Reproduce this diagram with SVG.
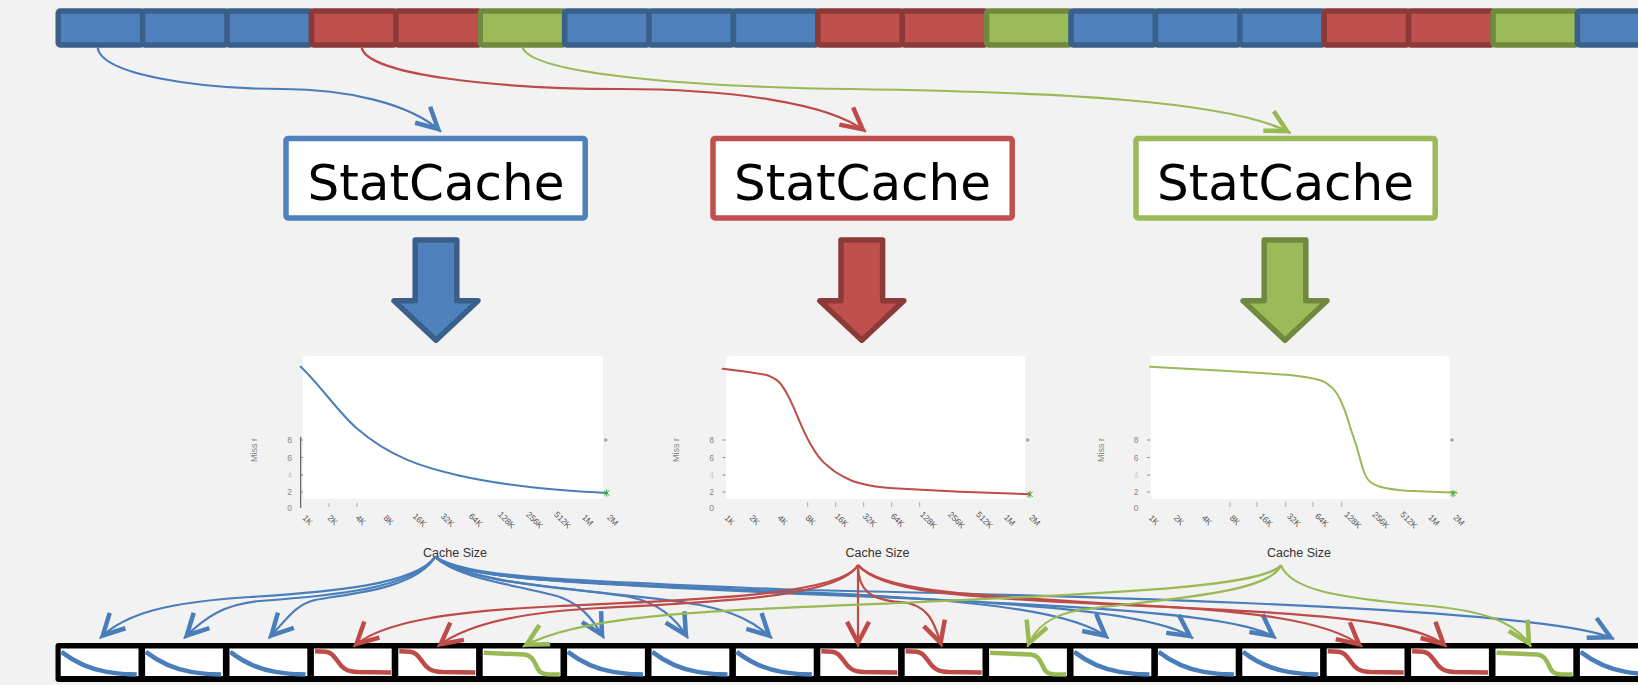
<svg xmlns="http://www.w3.org/2000/svg" width="1638" height="685" viewBox="0 0 1638 685">
<style>
.sb{fill:#4F81BD;stroke:#3A5F8B;stroke-width:5.5}
.sr{fill:#C0504D;stroke:#8C3A38;stroke-width:5.5}
.sg{fill:#9BBB59;stroke:#71893F;stroke-width:5.5}
.box{fill:#fff;stroke-width:5.5}
.lbl{font-family:"DejaVu Sans",sans-serif;font-size:50px;fill:#000;text-anchor:middle}
.xt{font-family:"Liberation Sans",Arial,sans-serif;font-size:8.5px;fill:#555;text-anchor:middle}
.yt{font-family:"Liberation Sans",Arial,sans-serif;font-size:8.5px;fill:#888;text-anchor:middle}
.cs{font-family:"Liberation Sans",Arial,sans-serif;font-size:12.5px;fill:#333;text-anchor:middle}
.crv{fill:none;stroke-width:2;stroke-linejoin:round;stroke-linecap:round}
.mini{fill:none;stroke-width:4.5;stroke-linejoin:round}
.cb{fill:none;stroke:#4A7EBB;stroke-width:2.2}
.cr{fill:none;stroke:#BE4B48;stroke-width:2.2}
.cg{fill:none;stroke:#98B954;stroke-width:2.2}
.cell{fill:#fff}
</style>
<defs>
<marker id="ahB" markerUnits="userSpaceOnUse" orient="auto" viewBox="-30 -15 32 30" markerWidth="32" markerHeight="30" refX="0" refY="0" overflow="visible">
<path d="M-25,-11 L-4,0 L-25,11" fill="none" stroke="#4A7EBB" stroke-width="4.5"/>
</marker>
<marker id="ahR" markerUnits="userSpaceOnUse" orient="auto" viewBox="-30 -15 32 30" markerWidth="32" markerHeight="30" refX="0" refY="0" overflow="visible">
<path d="M-25,-11 L-4,0 L-25,11" fill="none" stroke="#BE4B48" stroke-width="4.5"/>
</marker>
<marker id="ahG" markerUnits="userSpaceOnUse" orient="auto" viewBox="-30 -15 32 30" markerWidth="32" markerHeight="30" refX="0" refY="0" overflow="visible">
<path d="M-25,-11 L-4,0 L-25,11" fill="none" stroke="#98B954" stroke-width="4.5"/>
</marker>
<path id="miniB" d="M0.7 3.4 C12 12, 25 20, 46 23.4 S65 25.5, 76 26" class="mini" stroke="#4A7EBB"/>
<path id="miniR" d="M1 2.7 L12 3.2 C18 4, 20 8, 24 13 C28 19, 32 23, 44 23.5 L77 24" class="mini" stroke="#BE4B48"/>
<path id="miniG" d="M1 4.3 L42 6 C48 7, 50 10, 53 16 C56 23, 58 25.5, 65 25.8 L77 26" class="mini" stroke="#98B954"/>
<g id="xlabels">
<text class="xt" x="7" y="523" transform="rotate(45 7 520)">1K</text>
<text class="xt" x="32" y="523" transform="rotate(45 32 520)">2K</text>
<text class="xt" x="60" y="523" transform="rotate(45 60 520)">4K</text>
<text class="xt" x="88" y="523" transform="rotate(45 88 520)">8K</text>
<text class="xt" x="119" y="523" transform="rotate(45 119 520)">16K</text>
<text class="xt" x="147" y="523" transform="rotate(45 147 520)">32K</text>
<text class="xt" x="175" y="523" transform="rotate(45 175 520)">64K</text>
<text class="xt" x="206" y="523" transform="rotate(45 206 520)">128K</text>
<text class="xt" x="234" y="523" transform="rotate(45 234 520)">256K</text>
<text class="xt" x="262" y="523" transform="rotate(45 262 520)">512K</text>
<text class="xt" x="287" y="523" transform="rotate(45 287 520)">1M</text>
<text class="xt" x="312" y="523" transform="rotate(45 312 520)">2M</text>
<text class="yt" x="-11" y="443">8</text>
<text class="yt" x="-11" y="460.7">6</text>
<text class="yt" x="-11" y="478" fill-opacity="0.4">4</text>
<text class="yt" x="-11" y="495">2</text>
<text class="yt" x="-11" y="511">0</text>
<text class="yt" x="-43.5" y="450" transform="rotate(-90 -43.5 450)" style="font-size:9px">Miss r</text>
<path d="M0 440 h3 M0 457.5 h3 M0 475 h3 M0 492 h3 M303 440 h4 M305 438 v4" stroke="#777" stroke-width="0.8"/>
</g>
</defs>
<rect width="1638" height="685" fill="#F2F2F2"/>

<g id="source-strip">
<rect class="sb" x="58.25" y="11" width="84.4" height="34" rx="2"/>
<rect class="sb" x="142.65" y="11" width="84.4" height="34" rx="2"/>
<rect class="sb" x="227.05" y="11" width="84.4" height="34" rx="2"/>
<rect class="sr" x="311.45" y="11" width="84.4" height="34" rx="2"/>
<rect class="sr" x="395.85" y="11" width="84.4" height="34" rx="2"/>
<rect class="sg" x="480.25" y="11" width="84.4" height="34" rx="2"/>
<rect class="sb" x="564.65" y="11" width="84.4" height="34" rx="2"/>
<rect class="sb" x="649.05" y="11" width="84.4" height="34" rx="2"/>
<rect class="sb" x="733.45" y="11" width="84.4" height="34" rx="2"/>
<rect class="sr" x="817.85" y="11" width="84.4" height="34" rx="2"/>
<rect class="sr" x="902.25" y="11" width="84.4" height="34" rx="2"/>
<rect class="sg" x="986.65" y="11" width="84.4" height="34" rx="2"/>
<rect class="sb" x="1071.05" y="11" width="84.4" height="34" rx="2"/>
<rect class="sb" x="1155.45" y="11" width="84.4" height="34" rx="2"/>
<rect class="sb" x="1239.85" y="11" width="84.4" height="34" rx="2"/>
<rect class="sr" x="1324.25" y="11" width="84.4" height="34" rx="2"/>
<rect class="sr" x="1408.65" y="11" width="84.4" height="34" rx="2"/>
<rect class="sg" x="1493.05" y="11" width="84.4" height="34" rx="2"/>
<rect class="sb" x="1577.45" y="11" width="84.4" height="34" rx="2"/>
</g>

<g id="statcache-blue">
<rect class="box" x="286" y="138.5" width="299.2" height="79.5" rx="2" stroke="#4F81BD"/>
<text class="lbl" x="436" y="200">StatCache</text>
</g>
<g id="statcache-red">
<rect class="box" x="713" y="138.5" width="299.2" height="79.5" rx="2" stroke="#C0504D"/>
<text class="lbl" x="862.5" y="200">StatCache</text>
</g>
<g id="statcache-green">
<rect class="box" x="1136" y="138.5" width="299.2" height="79.5" rx="2" stroke="#9BBB59"/>
<text class="lbl" x="1285.5" y="200">StatCache</text>
</g>

<g id="block-arrow-blue">
<polygon class="sb" stroke-linejoin="round" points="415.2,240 456.8,240 456.8,300.8 478,300.8 436,340.2 394,300.8 415.2,300.8"/>
</g>
<g id="block-arrow-red">
<polygon class="sr" stroke-linejoin="round" points="841,240 882.6,240 882.6,300.8 903.8,300.8 861.8,340.2 819.8,300.8 841,300.8"/>
</g>
<g id="block-arrow-green">
<polygon class="sg" stroke-linejoin="round" points="1264.2,240 1305.8,240 1305.8,300.8 1327,300.8 1285,340.2 1243,300.8 1264.2,300.8"/>
</g>

<g id="chart-blue">
<g transform="translate(300.7,0)"><use href="#xlabels"/></g>
<line x1="300.7" y1="436.7" x2="300.7" y2="508" stroke="#444" stroke-width="1"/>
<path d="M329 503 v4 M357 503 v4" stroke="#999" stroke-width="0.8"/>
<rect x="303" y="356" width="300" height="142.7" rx="3" fill="#fff"/>
<path class="crv" stroke="#4A7EBB" d="M300.7 366.7 C319.4 384.1, 338 412, 356.7 428.3 C390 457.3, 423.4 467.3, 456.7 475 C506.7 486.5, 556.7 490, 606.7 493"/>
<path d="M604 490.3 l5.4 5.4 M604 495.7 l5.4 -5.4 M606.7 489.5 v7" stroke="#3BA53B" stroke-width="1"/>
<text class="cs" x="455" y="557">Cache Size</text>
</g>

<g id="chart-red">
<g transform="translate(722.7,0)"><use href="#xlabels"/></g>
<path d="M807.7 502 v5 M835.7 502 v5 M863.7 502 v5 M891.7 502 v5 M919.7 502 v5" stroke="#999" stroke-width="0.8"/>
<rect x="726" y="356" width="299" height="142.7" rx="3" fill="#fff"/>
<path class="crv" stroke="#BE4B48" d="M722.7 368.7 L746.7 371.7 L766.7 375 C772 377, 776 379, 779 382 C784 387, 789 397, 793.3 406.7 C797 415, 803 431, 810 443.3 C816 454, 821 461, 826.7 465 C833 471, 838 474, 843.3 476.7 C849 480, 854 482, 860 483.3 C870 486, 880 487.5, 893.3 488.3 L960 491.7 L1030 494.3"/>
<path d="M1027.3 491.6 l5.4 5.4 M1027.3 497 l5.4 -5.4 M1030 490.8 v7" stroke="#3BA53B" stroke-width="1"/>
<text class="cs" x="877.5" y="557">Cache Size</text>
</g>

<g id="chart-green">
<g transform="translate(1147,0)"><use href="#xlabels"/></g>
<path d="M1230 502 v5 M1257 502 v5 M1285.7 502 v5 M1313 502 v5 M1341.7 502 v5" stroke="#999" stroke-width="0.8"/>
<rect x="1151" y="356" width="299" height="142.7" rx="3" fill="#fff"/>
<path class="crv" stroke="#98B954" d="M1150 366.7 L1223.3 370.7 L1290 375 C1302 376.5, 1310 377.5, 1316.7 379.3 C1321 380.5, 1324 381.5, 1326.7 383.3 C1331 386, 1334 389, 1336.7 393.3 C1339 397, 1341 401, 1343.3 406.7 C1346 413, 1348 420, 1350 426.7 L1356.7 446.7 C1359 455, 1361 463, 1363.3 470 C1365 475, 1367 479, 1370 481.7 C1373 484, 1376 485.5, 1380 486.7 C1388 489, 1397 490, 1406.7 490.7 L1456.7 492.7"/>
<path d="M1450.3 490.8 l5.4 5.4 M1450.3 496.2 l5.4 -5.4 M1453 490 v7" stroke="#3BA53B" stroke-width="1"/>
<text class="cs" x="1299" y="557">Cache Size</text>
</g>

<g id="result-strip">
<rect x="55.5" y="643" width="1700" height="39" rx="3" fill="#000"/>
<g id="cell-0" transform="translate(60.7,648.5)"><rect class="cell" width="77.8" height="27.5"/><use href="#miniB"/></g>
<g id="cell-1" transform="translate(145.1,648.5)"><rect class="cell" width="77.8" height="27.5"/><use href="#miniB"/></g>
<g id="cell-2" transform="translate(229.5,648.5)"><rect class="cell" width="77.8" height="27.5"/><use href="#miniB"/></g>
<g id="cell-3" transform="translate(313.9,648.5)"><rect class="cell" width="77.8" height="27.5"/><use href="#miniR"/></g>
<g id="cell-4" transform="translate(398.3,648.5)"><rect class="cell" width="77.8" height="27.5"/><use href="#miniR"/></g>
<g id="cell-5" transform="translate(482.7,648.5)"><rect class="cell" width="77.8" height="27.5"/><use href="#miniG"/></g>
<g id="cell-6" transform="translate(567.1,648.5)"><rect class="cell" width="77.8" height="27.5"/><use href="#miniB"/></g>
<g id="cell-7" transform="translate(651.5,648.5)"><rect class="cell" width="77.8" height="27.5"/><use href="#miniB"/></g>
<g id="cell-8" transform="translate(735.9,648.5)"><rect class="cell" width="77.8" height="27.5"/><use href="#miniB"/></g>
<g id="cell-9" transform="translate(820.3,648.5)"><rect class="cell" width="77.8" height="27.5"/><use href="#miniR"/></g>
<g id="cell-10" transform="translate(904.7,648.5)"><rect class="cell" width="77.8" height="27.5"/><use href="#miniR"/></g>
<g id="cell-11" transform="translate(989.1,648.5)"><rect class="cell" width="77.8" height="27.5"/><use href="#miniG"/></g>
<g id="cell-12" transform="translate(1073.5,648.5)"><rect class="cell" width="77.8" height="27.5"/><use href="#miniB"/></g>
<g id="cell-13" transform="translate(1157.9,648.5)"><rect class="cell" width="77.8" height="27.5"/><use href="#miniB"/></g>
<g id="cell-14" transform="translate(1242.3,648.5)"><rect class="cell" width="77.8" height="27.5"/><use href="#miniB"/></g>
<g id="cell-15" transform="translate(1326.7,648.5)"><rect class="cell" width="77.8" height="27.5"/><use href="#miniR"/></g>
<g id="cell-16" transform="translate(1411.1,648.5)"><rect class="cell" width="77.8" height="27.5"/><use href="#miniR"/></g>
<g id="cell-17" transform="translate(1495.5,648.5)"><rect class="cell" width="77.8" height="27.5"/><use href="#miniG"/></g>
<g id="cell-18" transform="translate(1579.9,648.5)"><rect class="cell" width="77.8" height="27.5"/><use href="#miniB"/></g>
</g>

<g id="connectors">
<path class="cb" stroke-width="2" marker-end="url(#ahB)" d="M97.6 47 C100 75, 200 89, 283 89 C345 89, 410 103, 441 131.7"/>
<path class="cr" stroke-width="2" marker-end="url(#ahR)" d="M361.6 47 C365 75, 500 89, 620 89 C730 89, 830 103, 865.7 131.7"/>
<path class="cg" stroke-width="2" marker-end="url(#ahG)" d="M522.4 47 C530 75, 700 87, 850 89 C1050 92, 1230 100, 1290.5 133"/>

<path class="cb" marker-end="url(#ahB)" d="M435 557 C415 585, 330 592, 250 597 C170 602, 125 613, 100 638.3"/>
<path class="cb" marker-end="url(#ahB)" d="M435 557 C415 588, 330 596, 260 601 C225 604, 205 617, 184 638.3"/>
<path class="cb" marker-end="url(#ahB)" d="M435 557 C415 590, 345 594, 315 600 C295 605, 288 618, 268.6 638.3"/>
<path class="cb" marker-end="url(#ahB)" d="M435 557 C460 580, 520 585, 560 597 C578 604, 590 614, 604 638.3"/>
<path class="cb" marker-end="url(#ahB)" d="M435 557 C470 585, 560 585, 630 597 C658 603, 675 617, 688 638.3"/>
<path class="cb" marker-end="url(#ahB)" d="M435 557 C480 590, 620 590, 700 605 C735 612, 755 622, 772 638.3"/>
<path class="cb" marker-end="url(#ahB)" d="M435 557 C470 580, 560 582, 800 592 C1000 600, 1080 615, 1108.5 638.3"/>
<path class="cb" marker-end="url(#ahB)" d="M435 557 C470 580, 560 582, 800 593 C1050 603, 1160 615, 1193 638.3"/>
<path class="cb" marker-end="url(#ahB)" d="M435 557 C470 580, 560 582, 800 594 C1100 606, 1245 615, 1276 638.3"/>
<path class="cb" marker-end="url(#ahB)" d="M435 557 C470 578, 560 580, 800 590 C1200 598, 1560 612, 1614 639"/>

<path class="cr" marker-end="url(#ahR)" d="M858 565 C840 595, 700 600, 560 606 C450 611, 380 622, 353.6 646.7"/>
<path class="cr" marker-end="url(#ahR)" d="M858 565 C840 597, 720 602, 600 608 C520 612, 465 625, 437.5 646.7"/>
<path class="cr" marker-end="url(#ahR)" d="M858 565 L858 646.7"/>
<path class="cr" marker-end="url(#ahR)" d="M858 565 C858 590, 870 600, 900 602 C930 604, 935 625, 941.8 646.7"/>
<path class="cr" marker-end="url(#ahR)" d="M858 565 C880 590, 960 595, 1100 603 C1250 610, 1330 620, 1362 646.7"/>
<path class="cr" marker-end="url(#ahR)" d="M858 565 C880 592, 960 597, 1100 604 C1300 613, 1415 618, 1446.5 646.7"/>

<path class="cg" marker-end="url(#ahG)" d="M1281 565 C1265 585, 1150 592, 900 603 C700 611, 580 615, 523 646.7"/>
<path class="cg" marker-end="url(#ahG)" d="M1281 565 C1270 595, 1150 600, 1080 610 C1050 615, 1035 628, 1027.5 646.7"/>
<path class="cg" marker-end="url(#ahG)" d="M1281 565 C1290 590, 1340 598, 1420 605 C1480 610, 1515 620, 1531 646.7"/>
</g>
</svg>
